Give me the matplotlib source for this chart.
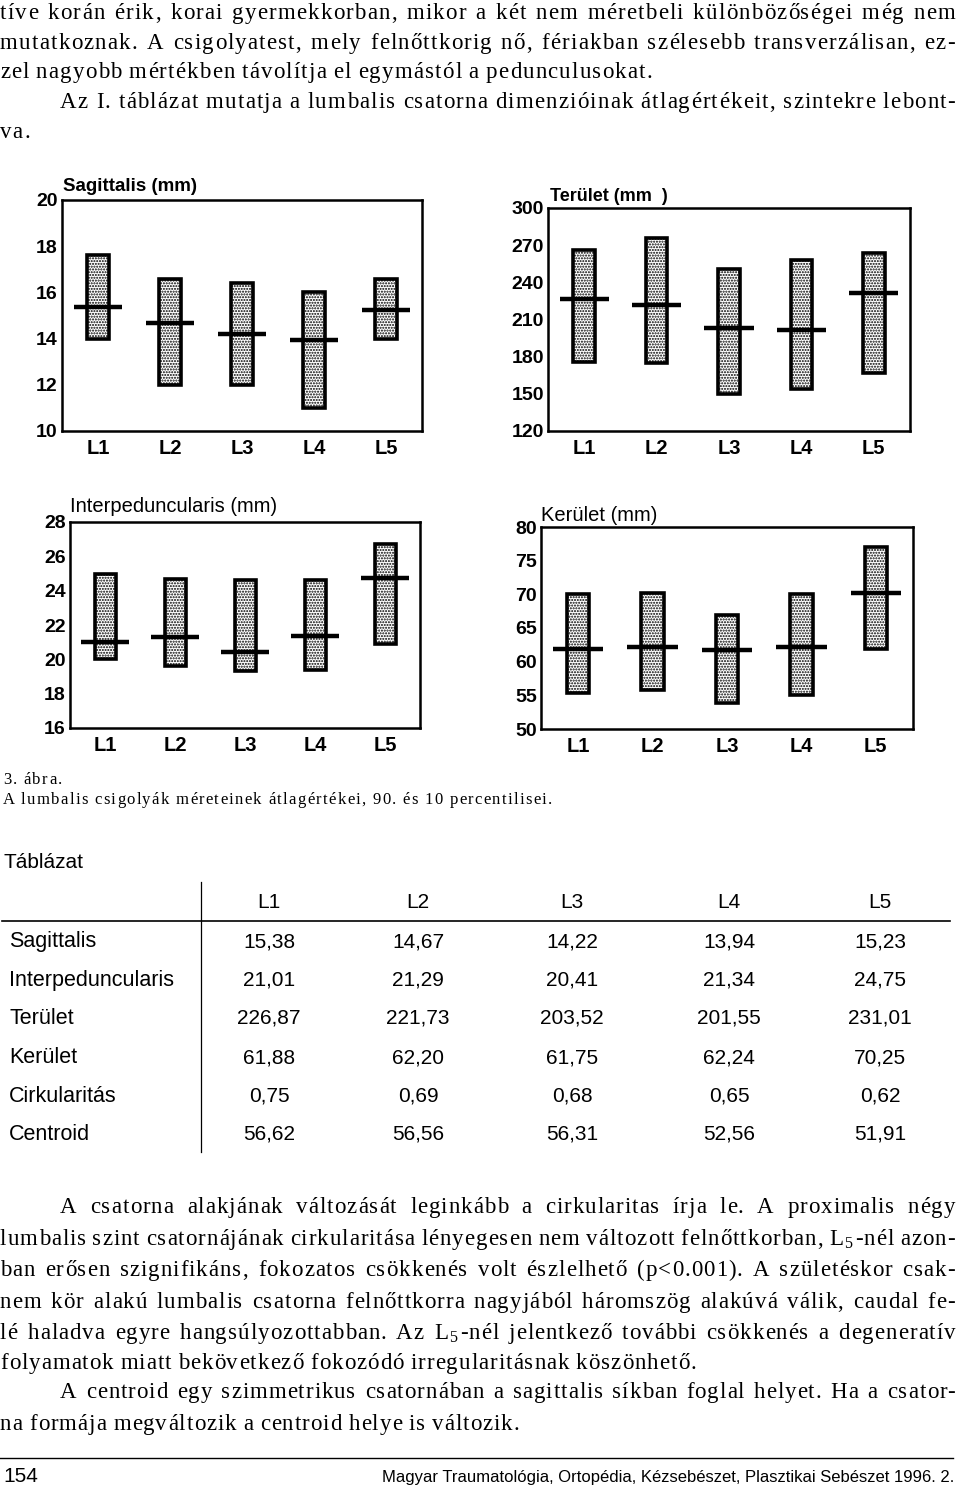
import re
import numpy as np
import matplotlib
matplotlib.use("Agg")
import matplotlib.pyplot as plt
from matplotlib.lines import Line2D

W, H = 960, 1489

plt.rcParams["font.family"] = ["Liberation Sans", "DejaVu Sans"]
plt.rcParams["mathtext.fontset"] = "custom"
plt.rcParams["mathtext.rm"] = "Liberation Serif"
plt.rcParams["mathtext.it"] = "Liberation Serif:italic"
plt.rcParams["hatch.linewidth"] = 1.0

levels = ["L1", "L2", "L3", "L4", "L5"]

# bars: 10th..90th percentile, line = mean
sag_mean = [15.38, 14.67, 14.22, 13.94, 15.23]
sag_p10 = [14.0, 12.0, 12.0, 11.0, 14.0]
sag_p90 = [17.6, 16.6, 16.4, 16.0, 16.6]

ter_mean = [226.87, 221.73, 203.52, 201.55, 231.01]
ter_p10 = [176, 175, 150, 154, 167]
ter_p90 = [266, 276, 251, 258, 264]

int_mean = [21.01, 21.29, 20.41, 21.34, 24.75]
int_p10 = [20.0, 19.6, 19.3, 19.4, 20.9]
int_p90 = [25.0, 24.7, 24.6, 24.6, 26.7]

ker_mean = [61.88, 62.20, 61.75, 62.24, 70.25]
ker_p10 = [55.4, 55.8, 53.9, 55.0, 61.9]
ker_p90 = [70.0, 70.2, 67.0, 70.0, 77.0]

# table
row_names = ["Sagittalis", "Interpeduncularis", "Terület", "Kerület", "Cirkularitás", "Centroid"]
table_vals = [
    ["15,38", "14,67", "14,22", "13,94", "15,23"],
    ["21,01", "21,29", "20,41", "21,34", "24,75"],
    ["226,87", "221,73", "203,52", "201,55", "231,01"],
    ["61,88", "62,20", "61,75", "62,24", "70,25"],
    ["0,75", "0,69", "0,68", "0,65", "0,62"],
    ["56,62", "56,56", "56,31", "52,56", "51,91"],
]

# page text: (text, indent, justify)
top_lines = [
    ("tíve korán érik, korai gyermekkorban, mikor a két nem méretbeli különbözőségei még nem", 0, True),
    ("mutatkoznak. A csigolyatest, mely felnőttkorig nő, fériakban szélesebb transverzálisan, ez-", 0, True),
    ("zel nagyobb mértékben távolítja el egymástól a pedunculusokat.", 0, False),
    ("Az I. táblázat mutatja a lumbalis csatorna dimenzióinak átlagértékeit, szintekre lebont-", 60, True),
    ("va.", 0, False),
]
bottom_lines = [
    ("A csatorna alakjának változását leginkább a cirkularitas írja le. A proximalis négy", 60, True),
    ("lumbalis szint csatornájának cirkularitása lényegesen nem változott felnőttkorban, L$_5$-nél azon-", 0, True),
    ("ban erősen szignifikáns, fokozatos csökkenés volt észlelhető (p<0.001). A születéskor csak-", 0, True),
    ("nem kör alakú lumbalis csatorna felnőttkorra nagyjából háromszög alakúvá válik, caudal fe-", 0, True),
    ("lé haladva egyre hangsúlyozottabban. Az L$_5$-nél jelentkező további csökkenés a degeneratív", 0, True),
    ("folyamatok miatt bekövetkező fokozódó irregularitásnak köszönhető.", 0, False),
    ("A centroid egy szimmetrikus csatornában a sagittalis síkban foglal helyet. Ha a csator-", 60, True),
    ("na formája megváltozik a centroid helye is változik.", 0, False),
]
top_baselines = [19, 49, 78, 108, 138]
bottom_baselines = [1213, 1245, 1276, 1308, 1339, 1369, 1398, 1430]

fig = plt.figure(figsize=(W / 100, H / 100), dpi=100)
renderer = fig.canvas.get_renderer()
_cache = {}


def fx(x):
    return x / W


def fy(y):
    return 1 - y / H


def text_width(s, **kw):
    key = (s, tuple(sorted((k, str(v)) for k, v in kw.items())))
    if key not in _cache:
        t = fig.text(0, 0, s, **kw)
        _cache[key] = t.get_window_extent(renderer).width
        t.remove()
    return _cache[key]


def units(word):
    return re.findall(r"\$[^$]*\$|.", word)


def unit_offsets(word, track, **kw):
    # ink-left of each unit relative to the ink-left of the first one
    us = units(word)
    offs = []
    for i, u in enumerate(us):
        if i == 0 or u == " ":
            pre = 0.0
        else:
            pre = text_width("".join(us[:i + 1]), **kw) - text_width(u, **kw)
        offs.append(pre + i * track)
    total = text_width(word, **kw) + (len(us) - 1) * track
    return us, offs, total


def draw_paragraph(lines, baselines, size, track, x1, **kw):
    kw = dict(kw, size=size)
    space = text_width("a a", **kw) - text_width("aa", **kw) + track
    for (s, indent, just), yb in zip(lines, baselines):
        words = s.split(" ")
        tr = track
        while True:
            laid = [unit_offsets(w, tr, **kw) for w in words]
            widths = [t for _, _, t in laid]
            gap = space
            if just and len(words) > 1:
                gap = (x1 - indent - sum(widths)) / (len(words) - 1)
            if gap >= 5 or tr <= 0:
                break
            tr -= 0.2
        x = indent
        for (us, offs, total) in laid:
            for u, o in zip(us, offs):
                fig.text(fx(x + o), fy(yb), u, ha="left", va="baseline", **kw)
            x += total + gap


def draw_tracked(s, x0, x1, yb, **kw):
    us = units(s)
    nat = text_width(s, **kw)
    extra = (x1 - x0 - nat) / (len(us) - 1)
    _, offs, _ = unit_offsets(s, extra, **kw)
    for u, o in zip(us, offs):
        if u != " ":
            fig.text(fx(x0 + o), fy(yb), u, ha="left", va="baseline", **kw)


def hline(x0, x1, y, lw):
    fig.add_artist(Line2D([fx(x0), fx(x1)], [fy(y), fy(y)], color="black", lw=lw,
                          transform=fig.transFigure))


def vline(x, y0, y1, lw):
    fig.add_artist(Line2D([fx(x), fx(x)], [fy(y0), fy(y1)], color="black", lw=lw,
                          transform=fig.transFigure))


def draw_chart(box, p10, p90, mean, ylim, yticks, title, title_xy, title_kw):
    l, t, r, b = box
    ax = fig.add_axes([fx(l), fy(b), (r - l) / W, (b - t) / H])
    x = np.arange(len(levels))
    lo = np.array(p10, dtype=float)
    hi = np.array(p90, dtype=float)
    ax.bar(x, hi - lo, bottom=lo, width=0.3, facecolor="white", edgecolor="black",
           linewidth=2.6, hatch="......")
    ax.hlines(mean, x - 0.34, x + 0.34, colors="black", linewidth=3.2, zorder=3)
    ax.set_xlim(-0.5, 4.5)
    ax.set_ylim(*ylim)
    ax.set_yticks(yticks)
    ax.set_xticks(x, levels)
    ax.tick_params(axis="y", length=0, labelsize=14, pad=3)
    ax.tick_params(axis="x", length=0, labelsize=14.5, pad=6)
    for lab in ax.get_xticklabels() + ax.get_yticklabels():
        lab.set_fontweight("bold")
    for sp in ax.spines.values():
        sp.set_linewidth(1.8)
    fig.text(fx(title_xy[0]), fy(title_xy[1]), title, ha="left", va="baseline", **title_kw)
    return ax


serif = dict(family=["Liberation Serif", "DejaVu Serif"])

# top text
draw_paragraph(top_lines, top_baselines, 16.5, 1.2, 955, **serif)

# charts
draw_chart((62, 200, 422, 431), sag_p10, sag_p90, sag_mean, (10, 20), range(10, 21, 2),
           "Sagittalis (mm)", (63, 191), dict(size=13.5, weight="bold"))
draw_chart((548, 208, 910, 431), ter_p10, ter_p90, ter_mean, (120, 300), range(120, 301, 30),
           "Terület (mm  )", (550, 201), dict(size=13, weight="bold"))
draw_chart((70, 522, 420, 728), int_p10, int_p90, int_mean, (16, 28), range(16, 29, 2),
           "Interpeduncularis (mm)", (70, 512), dict(size=14.5))
draw_chart((541, 527, 913, 729), ker_p10, ker_p90, ker_mean, (50, 80), range(50, 81, 5),
           "Kerület (mm)", (541, 521), dict(size=14.5))

# caption
cap = dict(family=["Liberation Serif", "DejaVu Serif"], size=12)
draw_tracked("3. ábra.", 3, 62, 784, **cap)
draw_tracked("A lumbalis csigolyák méreteinek átlagértékei, 90. és 10 percentilisei.", 3, 552, 804, **cap)

# table
fig.text(fx(3), fy(868), "Táblázat", ha="left", va="baseline", size=15)
col_x = [269, 418, 572, 729, 880]
for cx, name in zip(col_x, levels):
    fig.text(fx(cx), fy(908), name, ha="center", va="baseline", size=15)
row_y = [940, 979, 1017, 1056, 1095, 1133]
for ry, name, vals in zip(row_y, row_names, table_vals):
    fig.text(fx(9), fy(ry + 7), name, ha="left", va="baseline", size=15.5)
    for cx, v in zip(col_x, vals):
        fig.text(fx(cx), fy(ry + 7), v, ha="center", va="baseline", size=15)
hline(2, 950, 921, 1.2)
vline(201, 882, 1152, 0.9)

# bottom text
draw_paragraph(bottom_lines, bottom_baselines, 16.5, 1.0, 955, **serif)

# footer
hline(0, 953, 1458, 1.0)
fig.text(fx(3), fy(1482), "154", ha="left", va="baseline", size=15)
fig.text(fx(954), fy(1482), "Magyar Traumatológia, Ortopédia, Kézsebészet, Plasztikai Sebészet 1996. 2.",
         ha="right", va="baseline", size=12)

fig.savefig("out.png", dpi=100)
